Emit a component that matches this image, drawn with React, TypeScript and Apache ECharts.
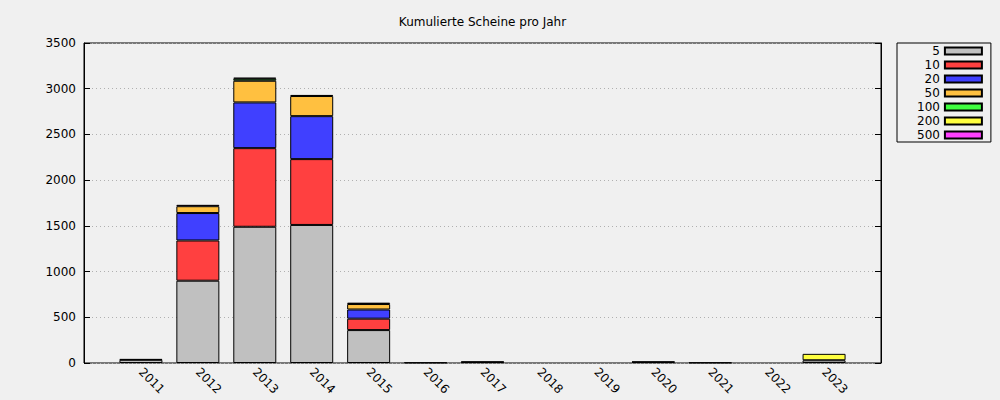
import React, { useEffect, useRef } from "react";
import * as echarts from "echarts";

const years = ["2011", "2012", "2013", "2014", "2015", "2016", "2017", "2018", "2019", "2020", "2021", "2022", "2023"];
const denominations = ["5", "10", "20", "50", "100", "200", "500"];
const colors = ["#c0c0c0", "#ff4040", "#4040ff", "#ffc040", "#40ff40", "#ffff40", "#ff40ff"];

const v5 = [35, 900, 1490, 1510, 360, 0, 10, 0, 0, 10, 0, 0, 30];
const v10 = [8, 440, 860, 720, 125, 5, 5, 0, 0, 5, 5, 0, 0];
const v20 = [0, 300, 500, 470, 100, 0, 0, 0, 0, 0, 0, 0, 0];
const v50 = [0, 75, 237, 220, 60, 0, 0, 0, 0, 0, 0, 0, 0];
const v100 = [0, 0, 22, 0, 0, 0, 0, 0, 0, 0, 0, 0, 0];
const v200 = [0, 0, 0, 0, 0, 0, 0, 0, 0, 0, 0, 0, 70];
const v500 = [0, 15, 12, 12, 15, 0, 0, 0, 0, 0, 0, 0, 0];
const seriesValues = [v5, v10, v20, v50, v100, v200, v500];

const yTicks = [0, 500, 1000, 1500, 2000, 2500, 3000, 3500];

const FONT = "DejaVu Sans";

export default function App() {
  const ref = useRef<HTMLDivElement>(null);
  useEffect(() => {
    if (!ref.current) return;
    const chart = echarts.init(ref.current, null, { renderer: "svg" });
    const plotLeft = 84;
    const plotRight = 881;
    const nSlots = years.length + 1;
    const slot = (plotRight - plotLeft) / nSlots;
    const yMin = yTicks[0];
    const yMax = yTicks[yTicks.length - 1];
    const yInterval = yTicks[1] - yTicks[0];

    chart.setOption({
      animation: false,
      backgroundColor: "#f0f0f0",
      textStyle: { fontFamily: FONT },
      graphic: [
        {
          type: "text",
          x: (plotLeft + plotRight) / 2,
          y: 22,
          style: {
            text: "Kumulierte Scheine pro Jahr",
            fontFamily: FONT,
            fontSize: 12,
            fill: "#000",
            textAlign: "center",
            textVerticalAlign: "middle",
          },
        },
      ],
      legend: {
        orient: "vertical",
        left: 897,
        top: 43,
        align: "right",
        padding: [1, 8, 0, 20],
        itemGap: 0,
        itemWidth: 37,
        itemHeight: 7,
        icon: "rect",
        borderColor: "#000",
        borderWidth: 1,
        textStyle: { fontFamily: FONT, fontSize: 12, color: "#000", lineHeight: 14 },
        data: denominations,
      },
      grid: [
        {
          left: plotLeft,
          right: 1000 - plotRight,
          top: 43,
          bottom: 37,
          show: true,
          borderColor: "#000",
          borderWidth: 1,
          backgroundColor: "transparent",
        },
        {
          left: plotLeft + slot / 2,
          width: slot * years.length,
          top: 43,
          bottom: 37,
        },
      ],
      xAxis: [
        { gridIndex: 0, type: "value", min: 0, max: 1, show: false },
        {
          gridIndex: 1,
          type: "category",
          data: years,
          axisLine: { show: false },
          axisTick: { show: false },
          axisLabel: {
            rotate: -45,
            margin: 7,
            fontFamily: FONT,
            fontSize: 12,
            color: "#000",
            interval: 0,
          },
        },
      ],
      yAxis: [
        {
          gridIndex: 0,
          type: "value",
          min: yMin,
          max: yMax,
          interval: yInterval,
          axisLine: { show: true, lineStyle: { color: "#000" } },
          axisTick: { show: true, inside: true, length: 6, lineStyle: { color: "#000" } },
          axisLabel: {
            fontFamily: FONT,
            fontSize: 12,
            color: "#000",
            margin: 8,
            formatter: (v: number) => String(v),
          },
          splitLine: { show: true, lineStyle: { color: "#b0b0b0", type: [1, 3], width: 1 } },
        },
        {
          gridIndex: 0,
          type: "value",
          position: "right",
          min: yMin,
          max: yMax,
          interval: yInterval,
          axisLine: { show: true, lineStyle: { color: "#000" } },
          axisTick: { show: true, inside: true, length: 6, lineStyle: { color: "#000" } },
          axisLabel: { show: false },
          splitLine: { show: false },
        },
        { gridIndex: 1, type: "value", min: yMin, max: yMax, show: false, splitLine: { show: false } },
      ],
      series: denominations.map((name, i) => ({
        name,
        type: "bar",
        stack: "total",
        xAxisIndex: 1,
        yAxisIndex: 2,
        barWidth: 43,
        itemStyle: { color: colors[i], borderColor: "#000", borderWidth: 1 },
        data: seriesValues[i].map((v) => (v === 0 ? null : v)),
      })),
    });
    return () => chart.dispose();
  }, []);
  return <div ref={ref} style={{ position: "fixed", left: 0, top: 0, width: 1000, height: 400 }} />;
}
